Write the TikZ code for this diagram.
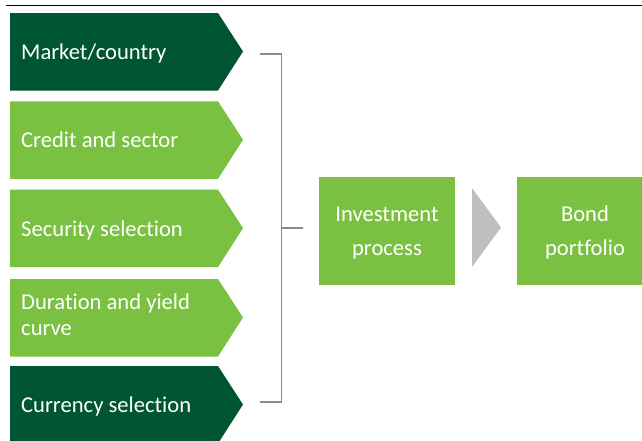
\documentclass[tikz,border=0pt]{standalone}
\usepackage{fontspec}
\setmainfont{Carlito}[Ligatures={NoCommon}]
\definecolor{dkgreen}{RGB}{0,85,50}
\definecolor{ltgreen}{RGB}{122,193,66}
\definecolor{brgrey}{RGB}{140,140,140}
\definecolor{arrgrey}{RGB}{191,191,191}
\tikzset{
  lbl/.style={text=white, font=\fontsize{22.6}{26}\selectfont, anchor=base west, inner sep=0pt},
  boxtxt/.style={text=white, font=\fontsize{22.6}{26}\selectfont, anchor=base, inner sep=0pt},
  gbox/.style={fill=ltgreen, inner sep=0pt, minimum width=136pt, minimum height=108pt},
  brk/.style={draw=brgrey, line width=1.3pt}
}
\newcommand\pentshape[2]{\fill[#1] (10,#2) -- (218,#2) -- (243,#2+38.5) -- (218,#2+77.5) -- (10,#2+77.5) -- cycle;}
\begin{document}
\begin{tikzpicture}[x=1pt,y=-1pt]
\useasboundingbox (0,0) rectangle (642,440);
\clip (0,0) rectangle (642,440);
\coordinate (rl) at (6,5.5);
\coordinate (rr) at (642,5.5);
\draw[line width=1.7pt] (rl) -- (rr);
\pentshape{dkgreen}{13}
\pentshape{ltgreen}{101.3}
\pentshape{ltgreen}{189.6}
\pentshape{ltgreen}{279}
\pentshape{dkgreen}{366}
\node[lbl] (p1) at (21,59) {Market/country};
\node[lbl] (p2) at (21,147) {Credit and sector};
\node[lbl] (p3) at (21,236.5) {Security selection};
\node[lbl] (p4a) at (21,309) {Duration and yield};
\node[lbl] (p4b) at (21,335) {curve};
\node[lbl] (p5) at (21,412.5) {Currency selection};
\coordinate (bt) at (260,54);
\coordinate (btr) at (281.5,54);
\coordinate (bbr) at (281.5,402);
\coordinate (bb) at (260,402);
\coordinate (bm) at (281.5,228);
\coordinate (bmr) at (303,228);
\draw[brk] (bt) -- (btr) -- (bbr) -- (bb);
\draw[brk] (bm) -- (bmr);
\node[gbox] (inv) at (387,231) {};
\node[gbox] (bond) at (585,231) {};
\node[boxtxt] (inv1) at (387,221.7) {Investment};
\node[boxtxt] (inv2) at (387,255.7) {process};
\node[boxtxt] (bond1) at (585,221.7) {Bond};
\node[boxtxt] (bond2) at (585,255.7) {portfolio};
\fill[arrgrey] (472,188) -- (501,227.5) -- (472,267) -- cycle;
\end{tikzpicture}
\end{document}
